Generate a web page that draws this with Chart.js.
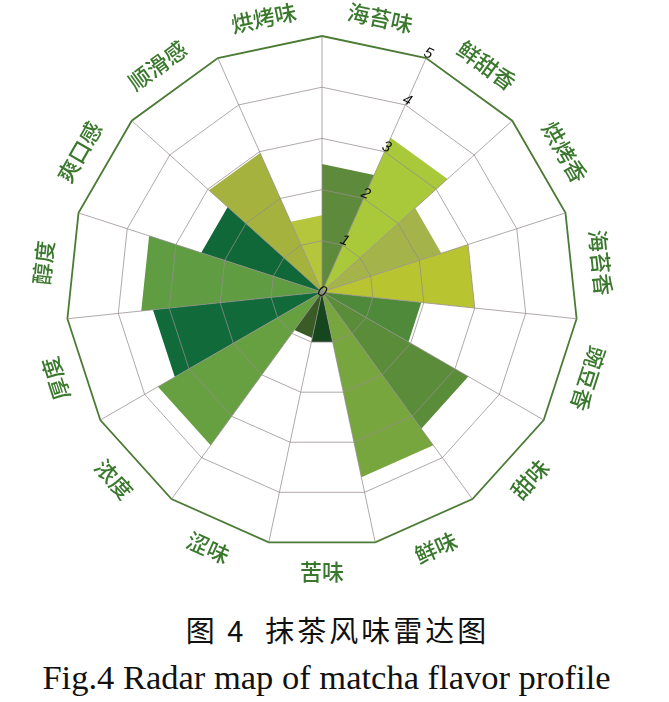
<!DOCTYPE html>
<html>
<head>
<meta charset="utf-8">
<script src="https://cdn.jsdelivr.net/npm/chart.js@4/dist/chart.umd.min.js"></script>
<style>
  body { margin: 0; background: #fff; width: 669px; height: 702px; position: relative; overflow: hidden; }
  #wrap { position: absolute; left: 0; top: 0; width: 669px; height: 600px; }
  .cap { position: absolute; left: 0; width: 669px; text-align: center; color: #111; white-space: pre; }
  #capCn { top: 608px; font-family: "Noto Sans CJK SC", serif; font-size: 29px; letter-spacing: 3px; left: 3px; }
  #capEn { top: 658px; font-family: "Liberation Serif", "DejaVu Serif", serif; font-size: 34.5px; left: -8px; }
</style>
</head>
<body>
<div id="wrap"><canvas id="flavorChart"></canvas></div>
<div class="cap" id="capCn">图 4  抹茶风味雷达图</div>
<div class="cap" id="capEn">Fig.4 Radar map of matcha flavor profile</div>
<script>
// flavor attributes, clockwise from the top
const categories = ["海苔味", "鲜甜香", "烘烤香", "海苔香", "豌豆香", "甜味", "鲜味",
  "苦味", "涩味", "浓度", "厚度", "醇度", "爽口感", "顺滑感", "烘烤味"];
const scores = [2.5, 3.3, 2.45, 3.0, 1.95, 3.3, 3.7, 1.0, 0.92, 3.7, 3.32, 3.55, 2.48, 2.97, 1.5];
const wedgeColors = ["#5e8a3c", "#a9c93a", "#a4b44a", "#b9c431", "#4f8a3a", "#5a8c3a", "#78a63e",
  "#16461e", "#3a5a26", "#66a040", "#106a3a", "#5f9c42", "#106838", "#a5b23e", "#b5c63c"];
const tickValues = [0, 1, 2, 3, 4, 5];

const labelGreen = "#3a782d";
const rimGreen = "#4b7b35";

// each wedge is a radar polygon with its value on two neighbouring spokes
const datasets = scores.map((v, i) => {
  const data = categories.map(() => 0);
  data[i] = v;
  data[(i + 1) % categories.length] = v;
  return {
    label: categories[i],
    data: data,
    backgroundColor: wedgeColors[i],
    borderWidth: 0,
    fill: "origin",
    pointRadius: 0,
    pointHoverRadius: 0,
  };
});

// category names in the middle of each wedge, plus the tick numbers
const labelPlugin = {
  id: "wedgeLabels",
  afterDraw(chart) {
    const scale = chart.scales.r;
    const ctx = chart.ctx;
    ctx.save();
    ctx.fillStyle = labelGreen;
    ctx.font = '500 22px "Noto Sans CJK SC", sans-serif';
    ctx.textAlign = "center";
    ctx.textBaseline = "middle";
    categories.forEach((name, i) => {
      const p = scale.getPointPosition(i + 0.5, scale.drawingArea + 24);
      let deg = (i + 0.5) * 360 / categories.length;
      if (deg > 120 && deg < 240) deg -= 180;
      ctx.save();
      ctx.translate(p.x, p.y);
      ctx.rotate(deg * Math.PI / 180);
      ctx.fillText(name, 0, 0);
      ctx.restore();
    });

    ctx.fillStyle = "#111";
    ctx.font = 'italic 15px "Liberation Sans", sans-serif';
    const tickAngle = 360 / categories.length;
    tickValues.forEach((v) => {
      const d = scale.getDistanceFromCenterForValue(v) + (v === 0 ? 0 : 5);
      const p = scale.getPointPosition(1, d);
      ctx.save();
      ctx.translate(p.x, p.y);
      ctx.rotate(tickAngle * Math.PI / 180);
      ctx.fillText(String(v), 0, 0);
      ctx.restore();
    });
    ctx.restore();
  },
};

new Chart(document.getElementById("flavorChart"), {
  type: "radar",
  data: {
    labels: categories,
    datasets: datasets,
  },
  options: {
    responsive: true,
    maintainAspectRatio: false,
    animation: false,
    layout: {
      padding: { left: 66, right: 91, top: 36, bottom: 52 },
    },
    elements: {
      line: { tension: 0 },
    },
    plugins: {
      legend: { display: false },
      tooltip: { enabled: false },
    },
    scales: {
      r: {
        min: 0,
        max: 5,
        ticks: { stepSize: 1, display: false },
        pointLabels: { display: false },
        grid: {
          z: 1,
          circular: false,
          color: (c) => (c.tick && c.tick.value === 5 ? rimGreen : "rgba(150,140,140,0.75)"),
          lineWidth: (c) => (c.tick && c.tick.value === 5 ? 1.8 : 1),
        },
        angleLines: {
          display: true,
          color: "rgba(150,140,140,0.75)",
          lineWidth: 1,
        },
      },
    },
  },
  plugins: [labelPlugin],
});
</script>
</body>
</html>
